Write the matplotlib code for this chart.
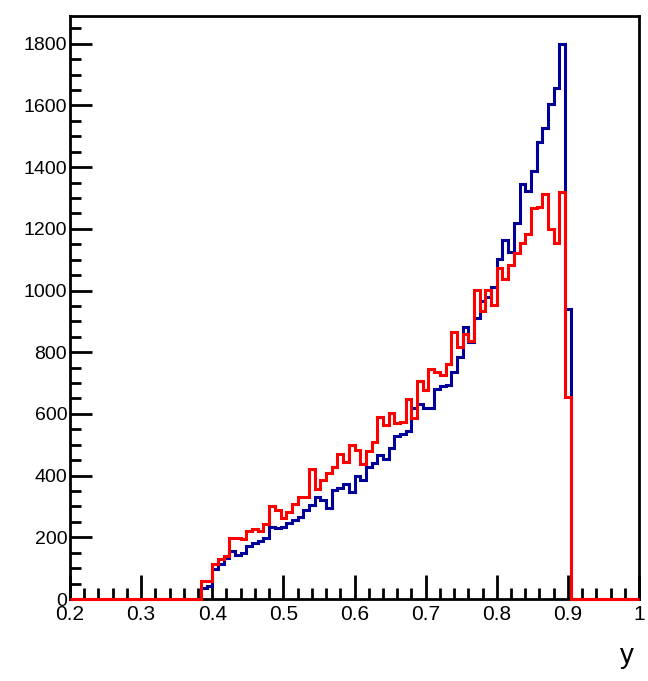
import numpy as np
import matplotlib
matplotlib.use("Agg")
import matplotlib.pyplot as plt
from matplotlib.ticker import MultipleLocator

plt.rcParams['font.family'] = ['Liberation Sans', 'DejaVu Sans']

# 100 bins from 0.2 to 1.0, non-empty bins start at 0.384 (bin 23)
xlo, xhi, nbins = 0.2, 1.0, 100
first_bin = 23

blue_counts = [35, 42, 97, 112, 132, 157, 143, 148, 172, 183,
               188, 197, 235, 229, 235, 245, 256, 265, 289, 305,
               332, 321, 294, 353, 359, 373, 348, 399, 386, 429,
               440, 467, 453, 489, 529, 535, 546, 618, 631, 618,
               618, 680, 691, 694, 737, 786, 883, 834, 910, 965,
               980, 1013, 1102, 1164, 1126, 1220, 1346, 1324, 1389, 1481,
               1526, 1605, 1658, 1800, 940]

red_counts = [58, 58, 112, 129, 140, 199, 197, 194, 220, 226,
              220, 243, 302, 289, 264, 283, 307, 332, 332, 422,
              356, 386, 410, 429, 470, 445, 499, 483, 438, 481,
              508, 589, 564, 603, 570, 575, 648, 586, 707, 678,
              745, 737, 726, 762, 864, 818, 859, 838, 1002, 933,
              1002, 953, 1072, 1036, 1084, 1123, 1153, 1184, 1267, 1271,
              1313, 1199, 1155, 1321, 656]

edges = np.linspace(xlo, xhi, nbins + 1)
h_blue = np.zeros(nbins)
h_red = np.zeros(nbins)
h_blue[first_bin:first_bin + len(blue_counts)] = blue_counts
h_red[first_bin:first_bin + len(red_counts)] = red_counts

fig = plt.figure(figsize=(6.48, 6.81), dpi=100)
ax = fig.add_axes([70/648, 1 - 599/681, (639 - 70)/648, (599 - 16)/681])

ax.stairs(h_blue, edges, color='#000099', lw=2.2, zorder=3, clip_on=False)
ax.stairs(h_red, edges, color='#ff0000', lw=2.2, zorder=4, clip_on=False)

ax.set_xlim(xlo, xhi)
ax.set_ylim(0, 1.05 * max(max(blue_counts), max(red_counts)))

ax.xaxis.set_major_locator(MultipleLocator(0.1))
ax.xaxis.set_minor_locator(MultipleLocator(0.02))
ax.yaxis.set_major_locator(MultipleLocator(200))
ax.yaxis.set_minor_locator(MultipleLocator(50))
ax.set_xticks(np.arange(0.2, 1.01, 0.1))
ax.set_xticklabels(['0.2', '0.3', '0.4', '0.5', '0.6', '0.7', '0.8', '0.9', '1'])

ax.tick_params(axis='both', which='both', direction='in', top=False, right=False,
               width=2)
ax.tick_params(axis='y', which='major', length=16, pad=2, labelsize=14)
ax.tick_params(axis='y', which='minor', length=8)
ax.tick_params(axis='x', which='major', length=17, pad=4.5, labelsize=15)
ax.tick_params(axis='x', which='minor', length=8)

for s in ax.spines.values():
    s.set_linewidth(2)

fig.text(627/648, 1 - 656/681, 'y', fontsize=20, ha='center', va='center')

fig.savefig('out.png', dpi=100)
